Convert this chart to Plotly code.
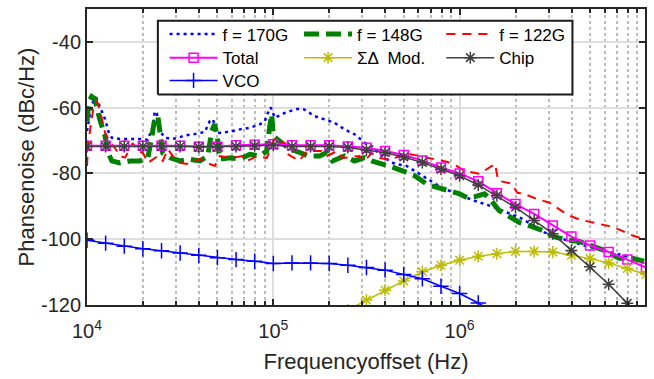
import plotly.graph_objects as go

# ---------------- data ----------------
GRID_F = [1.0e4, 1.259e4, 1.585e4, 1.995e4, 2.512e4, 3.162e4, 3.981e4, 5.012e4, 6.310e4, 7.943e4,
          1.0e5, 1.259e5, 1.585e5, 1.995e5, 2.512e5, 3.162e5, 3.981e5, 5.012e5, 6.310e5, 7.943e5,
          1.0e6, 1.259e6, 1.585e6, 1.995e6, 2.512e6, 3.162e6, 3.981e6, 5.012e6, 6.310e6, 7.943e6, 1.0e7]

VCO_V = [-100.3, -101.2, -102.1, -102.9, -103.5, -104.2, -104.9, -105.6, -106.2, -106.7,
         -107.4, -107.2, -107.2, -107.4, -107.9, -108.6, -109.4, -110.7, -112.0, -114.3,
         -116.5, -119.4, -122.8]
VCO_F = GRID_F[:len(VCO_V)]

SD_V = [-121.5, -118.5, -115.5, -112.7, -109.9, -107.9, -106.4, -105.2, -104.4, -103.7,
        -103.7, -103.9, -104.9, -105.9, -107.2, -108.9, -110.7]
SD_F = GRID_F[14:14 + len(SD_V)]

CHIP_V = [-71.8, -71.8, -71.8, -71.8, -71.8, -71.8, -72.0, -72.0, -71.8, -71.6,
          -71.4, -71.8, -71.8, -71.8, -72.1, -72.9, -73.7, -75.0, -76.7, -78.7,
          -80.7, -83.5, -86.8, -90.3, -94.3, -98.3, -103.4, -108.4, -113.7, -119.5, -125.0]
CHIP_F = GRID_F[:len(CHIP_V)]

TOTAL_V = [-71.6, -71.6, -71.6, -71.6, -71.6, -71.6, -71.9, -71.9, -71.4, -71.3,
           -71.1, -71.4, -71.4, -71.4, -71.8, -72.2, -73.2, -74.4, -76.1, -78.2,
           -80.0, -82.4, -86.0, -89.3, -92.3, -95.8, -99.2, -101.9, -103.9, -106.2, -108.6]
TOTAL_F = GRID_F[:len(TOTAL_V)]

F170_F = [1.00e4, 1.04e4, 1.08e4, 1.12e4, 1.17e4, 1.25e4, 1.30e4, 1.36e4, 1.50e4, 1.70e4,
          1.92e4, 2.12e4, 2.26e4, 2.31e4, 2.37e4, 2.46e4, 2.62e4, 2.96e4, 3.35e4, 3.79e4,
          4.29e4, 4.56e4, 4.73e4, 5.04e4, 5.84e4, 6.61e4, 7.48e4, 8.46e4, 9.00e4, 9.33e4,
          9.69e4, 1.02e5, 1.15e5, 1.30e5, 1.38e5, 1.47e5, 1.67e5, 1.89e5, 2.13e5, 2.41e5,
          2.73e5, 2.90e5, 3.09e5, 3.37e5, 3.72e5, 4.31e5, 4.64e5, 5.19e5, 6.09e5, 7.15e5,
          7.98e5, 8.82e5, 9.98e5, 1.20e6, 1.54e6, 1.86e6, 2.17e6, 2.85e6, 3.51e6, 4.67e6,
          6.35e6, 8.75e6, 9.78e6]
F170_V = [-67.1, -61.7, -58.1, -56.9, -59.6, -63.5, -67.1, -69.2, -69.5, -69.4,
          -69.5, -69.8, -65.6, -61.1, -61.7, -67.1, -69.2, -69.4, -68.5, -68.0,
          -67.4, -64.1, -63.5, -67.7, -67.3, -66.6, -66.1, -65.1, -64.1, -61.7,
          -59.9, -63.1, -61.6, -60.6, -60.3, -60.6, -62.6, -63.6, -64.6, -66.6,
          -68.1, -69.3, -70.7, -71.7, -74.1, -76.7, -77.2, -77.7, -80.2, -82.7,
          -84.3, -85.3, -86.5, -88.3, -90.3, -92.2, -93.8, -97.9, -99.8, -101.9,
          -103.9, -105.9, -106.4]

F148_F = [1.00e4, 1.025e4, 1.06e4, 1.10e4, 1.17e4, 1.25e4, 1.30e4, 1.36e4, 1.50e4, 1.70e4,
          1.92e4, 2.12e4, 2.23e4, 2.31e4, 2.40e4, 2.49e4, 2.55e4, 2.79e4, 3.15e4, 3.56e4,
          4.03e4, 4.45e4, 4.67e4, 4.85e4, 5.04e4, 5.16e4, 5.84e4, 6.61e4, 7.48e4, 8.46e4,
          9.22e4, 9.57e4, 9.80e4, 1.00e5, 1.08e5, 1.22e5, 1.40e5, 1.53e5, 1.77e5, 1.93e5,
          2.08e5, 2.41e5, 2.73e5, 3.09e5, 3.37e5, 3.72e5, 4.31e5, 4.94e5, 5.73e5, 6.72e5,
          7.79e5, 8.82e5, 9.98e5, 1.10e6, 1.20e6, 1.36e6, 1.48e6, 1.63e6, 1.85e6, 2.09e6,
          2.43e6, 2.78e6, 3.22e6, 3.65e6, 4.39e6, 4.96e6, 5.97e6, 7.18e6, 8.43e6, 9.78e6]
F148_V = [-64.1, -58.1, -56.6, -57.2, -63.5, -68.6, -73.8, -76.2, -76.8, -76.2,
          -76.2, -75.3, -68.6, -63.5, -62.6, -70.2, -73.8, -75.2, -76.2, -75.7,
          -76.2, -74.7, -67.1, -65.0, -70.2, -75.7, -75.2, -75.6, -74.2, -74.7,
          -73.2, -65.6, -62.0, -68.6, -70.2, -72.6, -73.7, -74.7, -74.7, -73.7,
          -76.2, -74.7, -76.2, -75.2, -76.2, -76.8, -78.0, -79.2, -80.7, -83.4,
          -84.6, -85.3, -86.2, -87.4, -87.1, -86.2, -88.3, -91.3, -93.1, -94.9,
          -96.1, -97.3, -99.2, -100.1, -100.7, -101.9, -103.4, -105.8, -105.8, -106.7]

F122_F = [1.00e4, 1.01e4, 1.04e4, 1.09e4, 1.13e4, 1.17e4, 1.25e4, 1.33e4, 1.41e4, 1.50e4,
          1.60e4, 1.76e4, 1.87e4, 2.00e4, 2.12e4, 2.40e4, 2.55e4, 2.72e4, 2.96e4, 3.15e4,
          3.43e4, 3.79e4, 4.03e4, 4.40e4, 4.85e4, 5.16e4, 6.06e4, 6.77e4, 7.20e4, 8.24e4,
          9.22e4, 1.02e5, 1.15e5, 1.19e5, 1.38e5, 1.51e5, 1.61e5, 1.82e5, 1.95e5, 2.19e5,
          2.35e5, 2.90e5, 3.09e5, 3.37e5, 3.72e5, 4.31e5, 5.06e5, 6.09e5, 7.33e5, 8.61e5,
          9.62e5, 1.06e6, 1.28e6, 1.50e6, 1.55e6, 1.61e6, 1.90e6, 2.04e6, 2.22e6, 2.58e6,
          3.03e6, 3.51e6, 3.74e6, 4.39e6, 5.21e6, 6.43e6, 7.36e6, 8.13e6, 9.55e6]
F122_V = [-77.7, -73.2, -66.5, -59.0, -58.1, -60.5, -67.6, -70.7, -72.2, -74.7,
          -75.2, -70.8, -73.2, -73.8, -76.8, -74.7, -76.2, -72.6, -75.6, -76.8,
          -77.1, -76.2, -75.6, -76.8, -77.7, -74.7, -75.3, -74.7, -76.2, -74.7,
          -75.3, -69.2, -70.8, -74.1, -76.2, -73.2, -73.2, -73.2, -74.7, -73.2,
          -75.3, -74.7, -76.2, -73.8, -75.3, -75.9, -73.8, -74.7, -75.6, -76.5,
          -77.7, -79.2, -80.1, -77.7, -77.1, -82.2, -83.1, -85.9, -86.2, -87.7,
          -88.9, -91.3, -92.5, -94.0, -94.9, -96.1, -97.3, -98.5, -99.8]

X_TICKS = [1e4, 1e5, 1e6]
X_TICKTEXT = ["10<sup>4</sup>", "10<sup>5</sup>", "10<sup>6</sup>"]
X_MINOR = [m * d for d in (1e4, 1e5, 1e6) for m in range(2, 10)]
Y_TICKS = [-120, -100, -80, -60, -40]
Y_TICKTEXT = ["-120", "-100", "-80", "-60", "-40"]

# legend frame corners (fraction of the plot area) and legend slots
LEGEND_BOX_X = [0.127, 0.870, 0.870, 0.127, 0.127]
LEGEND_BOX_Y = [0.711, 0.711, 0.960, 0.960, 0.711]
COL_X = [0.139, 0.380, 0.635]
ROW_Y = [0.975, 0.895, 0.818]

FONT = "Liberation Sans, Arial, Helvetica, sans-serif"

# ---------------- figure ----------------
fig = go.Figure()

series = [
    dict(x=F170_F, y=F170_V, mode="lines", name="f = 170G",
         line=dict(color="#0000ff", width=2.5, dash="3px,4px")),
    dict(x=F148_F, y=F148_V, mode="lines", name="f = 148G",
         line=dict(color="#008000", width=5, dash="15px,7px")),
    dict(x=F122_F, y=F122_V, mode="lines", name="f = 122G",
         line=dict(color="#ff0000", width=2, dash="9px,7px")),
    dict(x=TOTAL_F, y=TOTAL_V, mode="lines+markers", name="Total",
         line=dict(color="#ff00ff", width=2),
         marker=dict(symbol="square-open", size=9, color="#ff00ff",
                     line=dict(width=1.5, color="#ff00ff"))),
    dict(x=SD_F, y=SD_V, mode="lines+markers", name="ΣΔ  Mod.",
         line=dict(color="#bdbd00", width=1.5),
         marker=dict(symbol="asterisk-open", size=10, color="#bdbd00",
                     line=dict(width=1.5, color="#bdbd00"))),
    dict(x=CHIP_F, y=CHIP_V, mode="lines+markers", name="Chip",
         line=dict(color="#404040", width=1.5),
         marker=dict(symbol="asterisk-open", size=10, color="#404040",
                     line=dict(width=1.5, color="#404040"))),
    dict(x=VCO_F, y=VCO_V, mode="lines+markers", name="VCO",
         line=dict(color="#0000ff", width=1.5),
         marker=dict(symbol="cross-thin-open", size=11, color="#0000ff",
                     line=dict(width=1.5, color="#0000ff"))),
]

leg_common = dict(xanchor="left", yanchor="top", bgcolor="rgba(0,0,0,0)", borderwidth=0,
                  font=dict(size=17, family=FONT, color="#000000"), itemwidth=48,
                  tracegroupgap=0, orientation="v")
legend_layout = {}
for i, s in enumerate(series):
    key = "legend" if i == 0 else f"legend{i + 1}"
    fig.add_trace(go.Scatter(legend=key, **s))
    legend_layout[key] = dict(x=COL_X[i % 3], y=ROW_Y[i // 3], **leg_common)

# legend frame drawn on an overlay axis spanning the plot area
fig.add_trace(go.Scatter(x=LEGEND_BOX_X, y=LEGEND_BOX_Y, xaxis="x2", yaxis="y2",
                         mode="lines", fill="toself", fillcolor="white",
                         line=dict(color="#1a1a1a", width=2), showlegend=False,
                         hoverinfo="skip"))

fig.update_layout(
    width=654, height=379,
    margin=dict(l=87, r=7, t=7, b=74),
    paper_bgcolor="white", plot_bgcolor="white",
    font=dict(family=FONT, color="#262626"),
    **legend_layout,
    xaxis=dict(type="log", range=[4, 6.995],
               tickmode="array", tickvals=X_TICKS, ticktext=X_TICKTEXT,
               tickfont=dict(size=20, family=FONT, color="#262626"),
               ticks="inside", ticklen=6, tickwidth=2, tickcolor="#262626",
               ticklabelstandoff=7,
               showline=True, linecolor="#262626", linewidth=2, mirror="ticks",
               showgrid=True, gridcolor="#dedede", gridwidth=2, zeroline=False,
               minor=dict(tickmode="array", tickvals=X_MINOR, ticks="inside", ticklen=4,
                          tickwidth=1.5, tickcolor="#262626", showgrid=True,
                          gridcolor="#bcbcbc", griddash="dot", gridwidth=2),
               title=dict(text="Frequencyoffset (Hz)", font=dict(size=22, family=FONT, color="#262626"),
                          standoff=13)),
    yaxis=dict(range=[-120, -30], tickmode="array", tickvals=Y_TICKS, ticktext=Y_TICKTEXT,
               tickfont=dict(size=20, family=FONT, color="#262626"),
               ticks="inside", ticklen=6, tickwidth=2, tickcolor="#262626",
               showline=True, linecolor="#262626", linewidth=2, mirror="ticks",
               showgrid=True, gridcolor="#dedede", gridwidth=2, zeroline=False,
               title=dict(text="Phansenoise (dBc/Hz)", font=dict(size=22, family=FONT, color="#262626"),
                          standoff=0)),
    xaxis2=dict(overlaying="x", range=[0, 1], visible=False, fixedrange=True),
    yaxis2=dict(overlaying="y", range=[0, 1], visible=False, fixedrange=True),
)

fig.write_html("out.html")
